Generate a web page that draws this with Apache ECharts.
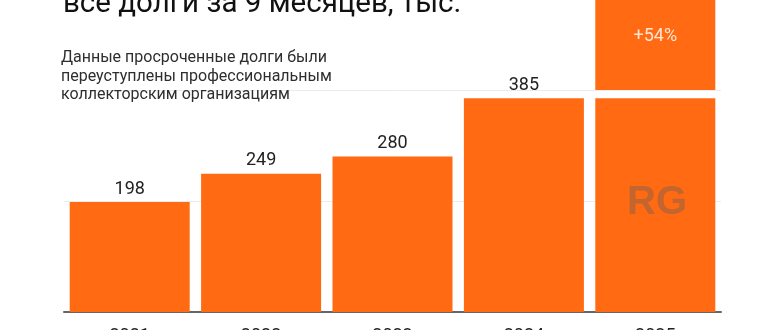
<!DOCTYPE html>
<html>
<head>
<meta charset="utf-8">
<script src="https://cdn.jsdelivr.net/npm/echarts@6/dist/echarts.min.js"></script>
<style>html,body{margin:0;padding:0;background:#fff;}#c{width:770px;height:330px;}</style>
</head>
<body>
<div id="c"></div>
<script>
const categories = ['2021', '2022', '2023', '2024', '2025'];
const baseValues = [198, 249, 280, 385, 385];
const gapValues = [null, null, null, null, 15];
const growthValues = [null, null, null, null, 193];
const growthLabel = '+54%';
const yTicks = [0, 200, 400, 600];
const titleText = 'все долги за 9 месяцев, тыс.';
const subtitleLines = ['Данные просроченные долги были', 'переуступлены профессиональным', 'коллекторским организациям'];

const ORANGE = '#ff6a13';
const FONT = 'Roboto, "Noto Sans", sans-serif';

const chart = echarts.init(document.getElementById('c'), null, {renderer: 'canvas'});
chart.setOption({
  animation: false,
  backgroundColor: '#ffffff',
  grid: {left: 64, right: 49, top: -21, bottom: 18, containLabel: false, outerBoundsMode: 'none'},
  xAxis: {
    type: 'category',
    data: categories,
    axisLine: {lineStyle: {color: '#666', width: 2}},
    axisTick: {alignWithLabel: true, length: 5, lineStyle: {color: '#666', width: 1}},
    axisLabel: {color: '#222', fontSize: 18, fontFamily: FONT, margin: 15}
  },
  yAxis: {
    type: 'value',
    min: yTicks[0],
    max: yTicks[yTicks.length - 1],
    interval: 200,
    axisLabel: {show: false},
    axisLine: {show: false},
    axisTick: {show: false},
    splitLine: {lineStyle: {color: '#ececec', width: 1}}
  },
  series: [
    {
      type: 'bar', stack: 't', data: baseValues, barWidth: 120,
      itemStyle: {color: ORANGE},
      label: {
        show: true, position: 'top', distance: 4, color: '#222', fontSize: 18, fontFamily: FONT,
        formatter: p => (p.dataIndex === categories.length - 1 ? '' : String(p.value))
      }
    },
    {
      type: 'bar', stack: 't', data: gapValues, barWidth: 120,
      itemStyle: {color: 'rgba(0,0,0,0)'}
    },
    {
      type: 'bar', stack: 't', data: growthValues, barWidth: 120,
      itemStyle: {color: ORANGE},
      label: {show: true, position: 'inside', color: '#fde6d4', fontSize: 18, fontFamily: FONT, formatter: growthLabel}
    }
  ],
  graphic: [
    {type: 'text', left: 63, top: -10, z: 10,
     style: {text: titleText, fontSize: 29.5, fontFamily: FONT, fill: '#111'}},
    {type: 'text', left: 61, top: 49, z: 10,
     style: {text: subtitleLines.join('\n'), fontSize: 16, lineHeight: 18.5, fontFamily: FONT, fill: '#2e2e2e'}},
    {type: 'text', left: 627, top: 183, z: 10,
     style: {text: 'RG', fontSize: 40, fontWeight: 'bold', fontFamily: '"Liberation Sans", Arial, sans-serif', fill: '#c2652f'}}
  ]
});
</script>
</body>
</html>
